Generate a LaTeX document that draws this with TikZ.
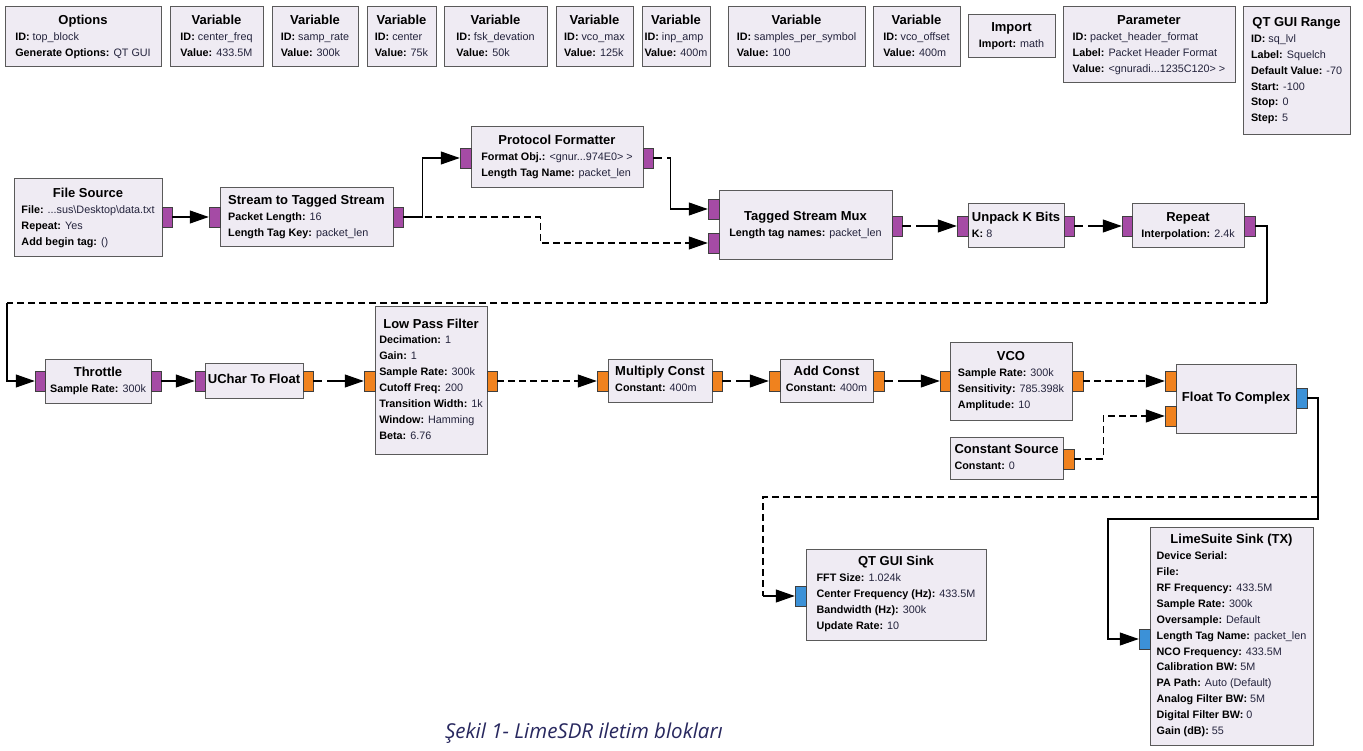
\documentclass[tikz,border=0pt]{standalone}
\usepackage{fontspec}
\setmainfont{Liberation Sans}
\newfontfamily\capfont{Open Sans}
\usetikzlibrary{arrows.meta}
\definecolor{blkfill}{RGB}{239,235,243}
\definecolor{bordc}{RGB}{90,90,90}
\definecolor{purp}{RGB}{165,75,165}
\definecolor{orng}{RGB}{240,130,30}
\definecolor{blu}{RGB}{60,145,215}
\definecolor{capc}{RGB}{40,40,95}
\definecolor{valc}{RGB}{35,35,60}
\newcommand\T[1]{\multicolumn{1}{@{}c@{}}{\fontsize{13}{15}\selectfont\bfseries #1}}
\newcommand\K[2]{\textbf{#1} {\color{valc}#2}}
\newcommand\blk[6]{\node[blk,minimum width={#4-#2},minimum height={#5-#3}] (#1) at ({(#2+#4)/2},{(#3+#5)/2}) {\makebox[0pt]{\begin{tabular}{@{}l@{}}#6\end{tabular}}};}
\newcommand\prt[5]{\node[port,fill=#5,minimum width={#3-#2}] (#1) at ({(#2+#3)/2},#4) {};}
\tikzset{
  blk/.style={draw=bordc,fill=blkfill,line width=1pt,inner sep=0pt,font=\fontsize{10.8}{15.9}\selectfont},
  port/.style={draw=bordc!70!black,line width=0.5pt,inner sep=0pt,minimum height=20},
  wire/.style={line width=1.1pt,black},
  conn/.style={wire,-{Triangle[length=19pt,width=13pt]}},
  dconn/.style={conn,dash pattern=on 7pt off 4pt},
  sconn/.style={conn,dash pattern=on 9pt off 5pt on 2000pt},
  dwire/.style={wire,dash pattern=on 7pt off 4pt},
}
\begin{document}
\begin{tikzpicture}[x=1pt,y=-1pt]
\fill[white] (0,0) rectangle (1363,751);
\useasboundingbox (0,0) rectangle (1363,751);
% top row
\blk{opt}{5}{7}{161}{67}{\T{Options}\\ \K{ID:}{top\_block}\\ \K{Generate Options:}{QT GUI}}
\blk{v1}{170}{7}{263}{67}{\T{Variable}\\ \K{ID:}{center\_freq}\\ \K{Value:}{433.5M}}
\blk{v2}{272}{7}{358}{67}{\T{Variable}\\ \K{ID:}{samp\_rate}\\ \K{Value:}{300k}}
\blk{v3}{367}{7}{436}{67}{\T{Variable}\\ \K{ID:}{center}\\ \K{Value:}{75k}}
\blk{v4}{444}{7}{547}{67}{\T{Variable}\\ \K{ID:}{fsk\_devation}\\ \K{Value:}{50k}}
\blk{v5}{556}{7}{633}{67}{\T{Variable}\\ \K{ID:}{vco\_max}\\ \K{Value:}{125k}}
\blk{v6}{642}{7}{710}{67}{\T{Variable}\\ \K{ID:}{inp\_amp}\\ \K{Value:}{400m}}
\blk{v7}{728}{7}{865}{67}{\T{Variable}\\ \K{ID:}{samples\_per\_symbol}\\ \K{Value:}{100}}
\blk{v8}{873}{7}{960}{67}{\T{Variable}\\ \K{ID:}{vco\_offset}\\ \K{Value:}{400m}}
\blk{imp}{968}{15}{1055}{58}{\T{Import}\\ \K{Import:}{math}}
\blk{par}{1063}{7}{1235}{83}{\T{Parameter}\\ \K{ID:}{packet\_header\_format}\\ \K{Label:}{Packet Header Format}\\ \K{Value:}{<gnuradi...1235C120> >}}
\blk{rng}{1243}{7}{1350}{135}{\T{QT GUI Range}\\ \K{ID:}{sq\_lvl}\\ \K{Label:}{Squelch}\\ \K{Default Value:}{-70}\\ \K{Start:}{-100}\\ \K{Stop:}{0}\\ \K{Step:}{5}}
% second row
\blk{fs}{14}{179}{162}{257}{\T{File Source}\\ \K{File:}{...sus\textbackslash Desktop\textbackslash data.txt}\\ \K{Repeat:}{Yes}\\ \K{Add begin tag:}{()}}
\blk{sts}{220}{188}{393}{247}{\T{Stream to Tagged Stream}\\ \K{Packet Length:}{16}\\ \K{Length Tag Key:}{packet\_len}}
\blk{pf}{471}{127}{643}{188}{\T{Protocol Formatter}\\ \K{Format Obj.:}{<gnur...974E0> >}\\ \K{Length Tag Name:}{packet\_len}}
\blk{tsm}{719}{191}{892}{260}{\T{Tagged Stream Mux}\\ \K{Length tag names:}{packet\_len}}
\blk{unp}{968}{204}{1064}{248}{\T{Unpack K Bits}\\ \K{K:}{8}}
\blk{rep}{1132}{204}{1244}{248}{\T{Repeat}\\ \K{Interpolation:}{2.4k}}
% third row
\blk{thr}{45}{359}{151}{403}{\T{Throttle}\\ \K{Sample Rate:}{300k}}
\blk{uc}{205}{363}{303}{398}{\T{UChar To Float}}
\blk{lpf}{375}{307}{487}{454}{\T{Low Pass Filter}\\ \K{Decimation:}{1}\\ \K{Gain:}{1}\\ \K{Sample Rate:}{300k}\\ \K{Cutoff Freq:}{200}\\ \K{Transition Width:}{1k}\\ \K{Window:}{Hamming}\\ \K{Beta:}{6.76}}
\blk{mc}{608}{359}{712}{402}{\T{Multiply Const}\\ \K{Constant:}{400m}}
\blk{ac}{780}{359}{873}{402}{\T{Add Const}\\ \K{Constant:}{400m}}
\blk{vco}{950}{343}{1072}{420}{\T{VCO}\\ \K{Sample Rate:}{300k}\\ \K{Sensitivity:}{785.398k}\\ \K{Amplitude:}{10}}
\blk{cs}{950}{437}{1063}{479}{\T{Constant Source}\\ \K{Constant:}{0}}
\blk{ftc}{1176}{364}{1296}{433}{\T{Float To Complex}}
% fourth row
\blk{qt}{806}{549}{986}{640}{\T{QT GUI Sink}\\ \K{FFT Size:}{1.024k}\\ \K{Center Frequency (Hz):}{433.5M}\\ \K{Bandwidth (Hz):}{300k}\\ \K{Update Rate:}{10}}
\blk{ls}{1150}{527}{1313}{745}{\T{LimeSuite Sink (TX)}\\ \K{Device Serial:}{}\\ \K{File:}{}\\ \K{RF Frequency:}{433.5M}\\ \K{Sample Rate:}{300k}\\ \K{Oversample:}{Default}\\ \K{Length Tag Name:}{packet\_len}\\ \K{NCO Frequency:}{433.5M}\\ \K{Calibration BW:}{5M}\\ \K{PA Path:}{Auto (Default)}\\ \K{Analog Filter BW:}{5M}\\ \K{Digital Filter BW:}{0}\\ \K{Gain (dB):}{55}}
% ports
\prt{fso}{162}{172}{217}{purp}
\prt{stsi}{209}{220}{217}{purp}
\prt{stso}{393}{403}{217}{purp}
\prt{pfi}{460}{471}{158}{purp}
\prt{pfo}{643}{653}{158}{purp}
\prt{tsmi0}{708}{719}{209}{purp}
\prt{tsmi1}{708}{719}{243}{purp}
\prt{tsmo}{892}{902}{226}{purp}
\prt{unpi}{957}{968}{226}{purp}
\prt{unpo}{1064}{1074}{226}{purp}
\prt{repi}{1122}{1132}{226}{purp}
\prt{repo}{1244}{1255}{226}{purp}
\prt{thri}{35}{45}{381}{purp}
\prt{thro}{151}{161}{381}{purp}
\prt{uci}{195}{205}{381}{purp}
\prt{uco}{303}{313}{381}{orng}
\prt{lpfi}{364}{375}{381}{orng}
\prt{lpfo}{487}{497}{381}{orng}
\prt{mci}{597}{608}{381}{orng}
\prt{mco}{712}{722}{381}{orng}
\prt{aci}{769}{780}{381}{orng}
\prt{aco}{873}{884}{381}{orng}
\prt{vcoi}{940}{950}{381}{orng}
\prt{vcoo}{1072}{1083}{381}{orng}
\prt{cso}{1063}{1074}{459}{orng}
\prt{ftci0}{1165}{1176}{381}{orng}
\prt{ftci1}{1165}{1176}{416}{orng}
\prt{ftco}{1296}{1307}{398}{blu}
\prt{qti}{795}{806}{596}{blu}
\prt{lsi}{1139}{1150}{639}{blu}
% connections
\draw[conn] (fso.east) -- (stsi.west);
\draw[conn] (stso.east) -- ++(19,0) |- (pfi.west);
\draw[dconn] (stso.east) -- ++(137,0) |- (tsmi1.west);
\draw[sconn] (pfo.east) -- ++(17,0) |- (tsmi0.west);
\draw[sconn] (tsmo.east) -- (unpi.west);
\draw[sconn] (unpo.east) -- (repi.west);
\coordinate (r1) at (1267,303);
\coordinate (r2) at (7,303);
\draw[wire] (repo.east) -| (r1);
\draw[dwire] (r1) -- (r2);
\draw[conn] (r2) |- (thri.west);
\draw[conn] (thro.east) -- (uci.west);
\draw[sconn] (uco.east) -- (lpfi.west);
\draw[dconn] (lpfo.east) -- (mci.west);
\draw[sconn] (mco.east) -- (aci.west);
\draw[sconn] (aco.east) -- (vcoi.west);
\draw[dconn] (vcoo.east) -- (ftci0.west);
\draw[dconn] (cso.east) -- ++(29,0) |- (ftci1.west);
\coordinate (f1) at (1318,497);
\coordinate (f2) at (763,596);
\coordinate (f3) at (1318,519);
\coordinate (f4) at (1108,519);
\draw[wire] (ftco.east) -| (f1);
\draw[dwire] (f1) -| (f2);
\draw[conn] (f2) -- (qti.west);
\draw[conn] (ftco.east) -| (f3) -- (f4) |- (lsi.west);
% caption
\node[font=\capfont\itshape\fontsize{20.5}{23}\selectfont,text=capc] (cap) at (584,733) {Şekil 1- LimeSDR iletim blokları};
\end{tikzpicture}
\end{document}
